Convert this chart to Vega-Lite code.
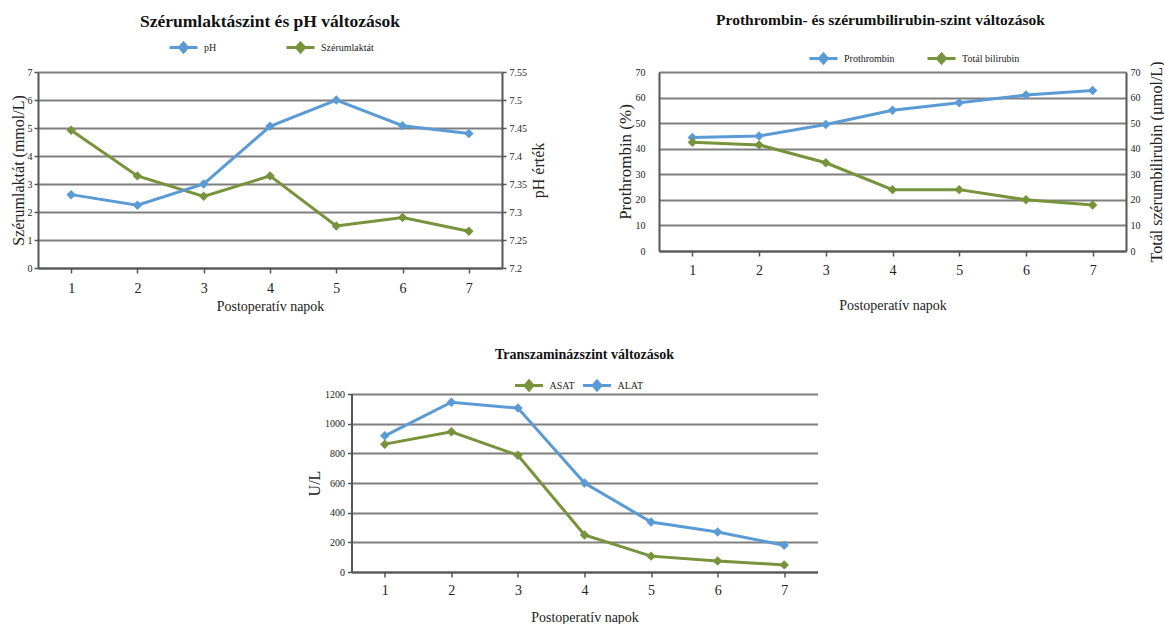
{
  "$schema": "https://vega.github.io/schema/vega-lite/v6.json",
  "padding": {"left": 10, "top": 12, "right": 0, "bottom": 0},
  "background": "white",
  "config": {
    "font": "Liberation Serif",
    "view": {"stroke": null},
    "axis": {"labelFont": "Liberation Serif", "titleFont": "Liberation Serif", "titleFontWeight": "normal", "labelColor": "#222222", "titleColor": "#222222", "domainColor": "#555555", "domainWidth": 2, "tickColor": "#555555", "tickWidth": 1.5, "gridColor": "#7f7f7f", "gridWidth": 2},
    "axisX": {"labelFontSize": 14, "labelAngle": 0, "tickSize": 5, "labelPadding": 8, "titleFontSize": 14, "titlePadding": 4, "grid": false},
    "axisY": {"labelFontSize": 10, "titleFontSize": 16, "tickSize": 4},
    "legend": {"labelFont": "Liberation Serif", "labelFontSize": 10, "labelColor": "#222222", "orient": "none", "direction": "horizontal", "symbolType": "M-1,0H1M0,-0.32L0.28,0L0,0.32L-0.28,0Z", "symbolSize": 784, "symbolStrokeWidth": 3, "labelOffset": 5},
    "title": {"font": "Liberation Serif", "fontWeight": "bold", "color": "#111111", "anchor": "middle"},
    "line": {"strokeWidth": 3}
  },
  "datasets": {
    "lac": [
      {"day": 1, "laktat": 4.92, "pH": 7.331},
      {"day": 2, "laktat": 3.29, "pH": 7.312},
      {"day": 3, "laktat": 2.56, "pH": 7.35},
      {"day": 4, "laktat": 3.29, "pH": 7.453},
      {"day": 5, "laktat": 1.5, "pH": 7.5},
      {"day": 6, "laktat": 1.8, "pH": 7.454},
      {"day": 7, "laktat": 1.31, "pH": 7.44}
    ],
    "pro": [
      {"day": 1, "prothrombin": 44.4, "bilirubin": 42.5},
      {"day": 2, "prothrombin": 45.0, "bilirubin": 41.5},
      {"day": 3, "prothrombin": 49.5, "bilirubin": 34.5},
      {"day": 4, "prothrombin": 55.0, "bilirubin": 24.0},
      {"day": 5, "prothrombin": 58.0, "bilirubin": 24.0},
      {"day": 6, "prothrombin": 61.0, "bilirubin": 20.0},
      {"day": 7, "prothrombin": 62.8, "bilirubin": 18.0}
    ],
    "trans": [
      {"day": 1, "ASAT": 862, "ALAT": 918},
      {"day": 2, "ASAT": 945, "ALAT": 1145},
      {"day": 3, "ASAT": 787, "ALAT": 1105},
      {"day": 4, "ASAT": 250, "ALAT": 600},
      {"day": 5, "ASAT": 107, "ALAT": 337},
      {"day": 6, "ASAT": 74, "ALAT": 270},
      {"day": 7, "ASAT": 48, "ALAT": 180}
    ]
  },
  "resolve": {"scale": {"color": "independent"}, "legend": {"color": "independent"}},
  "spacing": 35,
  "center": true,
  "vconcat": [
    {
      "spacing": 69,
      "resolve": {"scale": {"color": "independent"}, "legend": {"color": "independent"}},
      "hconcat": [
        {
          "width": 464,
          "height": 196,
          "data": {"name": "lac"},
          "title": {"text": "Szérumlaktászint és pH változások", "fontSize": 17.5, "offset": 2},
          "encoding": {
            "x": {"field": "day", "type": "ordinal", "scale": {"type": "point", "padding": 0.5}, "axis": {"title": "Postoperatív napok"}}
          },
          "layer": [
            {
              "mark": {"type": "line", "point": {"shape": "diamond", "size": 90, "filled": true}},
              "encoding": {
                "y": {"field": "laktat", "type": "quantitative", "scale": {"domain": [0, 7], "nice": false}, "axis": {"title": "Szérumlaktát (mmol/L)", "values": [0, 1, 2, 3, 4, 5, 6, 7], "grid": true, "labelPadding": 2, "titlePadding": 1}},
                "color": {"datum": "Szérumlaktát", "type": "nominal", "scale": {"domain": ["pH", "Szérumlaktát"], "range": ["#5B9BD5", "#77933C"]}, "legend": {"title": null, "legendX": 130, "legendY": -40, "columnPadding": 63}}
              }
            },
            {
              "mark": {"type": "line", "point": {"shape": "diamond", "size": 90, "filled": true}},
              "encoding": {
                "y": {"field": "pH", "type": "quantitative", "scale": {"domain": [7.2, 7.55], "zero": false, "nice": false}, "axis": {"orient": "right", "title": "pH érték", "values": [7.2, 7.25, 7.3, 7.35, 7.4, 7.45, 7.5, 7.55], "format": ".2~f", "grid": false, "titleAngle": 270, "titleBaseline": "top", "labelPadding": 3, "titlePadding": 4}},
                "color": {"datum": "pH", "type": "nominal", "scale": {"domain": ["pH", "Szérumlaktát"], "range": ["#5B9BD5", "#77933C"]}, "legend": {"title": null, "legendX": 130, "legendY": -40, "columnPadding": 63}}
              }
            }
          ],
          "resolve": {"scale": {"y": "independent"}}
        },
        {
          "width": 467,
          "height": 179,
          "data": {"name": "pro"},
          "title": {"text": "Prothrombin- és szérumbilirubin-szint változások", "fontSize": 15.5, "offset": 15, "dx": -12},
          "encoding": {
            "x": {"field": "day", "type": "ordinal", "scale": {"type": "point", "padding": 0.5}, "axis": {"title": "Postoperatív napok", "labelPadding": 7, "titlePadding": 21}}
          },
          "layer": [
            {
              "mark": {"type": "line", "point": {"shape": "diamond", "size": 90, "filled": true}},
              "encoding": {
                "y": {"field": "prothrombin", "type": "quantitative", "scale": {"domain": [0, 70], "nice": false}, "axis": {"title": "Prothrombin (%)", "titleFontSize": 17, "values": [0, 10, 20, 30, 40, 50, 60, 70], "grid": true, "ticks": false, "labelPadding": 14, "titlePadding": 1}},
                "color": {"datum": "Prothrombin", "type": "nominal", "scale": {"domain": ["Prothrombin", "Totál bilirubin"], "range": ["#5B9BD5", "#77933C"]}, "legend": {"title": null, "legendX": 149, "legendY": -29, "columnPadding": 26}}
              }
            },
            {
              "mark": {"type": "line", "point": {"shape": "diamond", "size": 90, "filled": true}},
              "encoding": {
                "y": {"field": "bilirubin", "type": "quantitative", "scale": {"domain": [0, 70], "nice": false}, "axis": {"orient": "right", "title": "Totál szérumbilirubin (µmol/L)", "titleFontSize": 16, "values": [0, 10, 20, 30, 40, 50, 60, 70], "grid": false, "ticks": false, "titleAngle": 270, "titleBaseline": "top", "labelPadding": 4, "titlePadding": 8}},
                "color": {"datum": "Totál bilirubin", "type": "nominal", "scale": {"domain": ["Prothrombin", "Totál bilirubin"], "range": ["#5B9BD5", "#77933C"]}, "legend": {"title": null, "legendX": 149, "legendY": -29, "columnPadding": 26}}
              }
            }
          ],
          "resolve": {"scale": {"y": "independent"}}
        }
      ]
    },
    {
      "width": 466,
      "height": 178,
      "data": {"name": "trans"},
      "title": {"text": "Transzaminázszint változások", "fontSize": 14, "offset": 8},
      "encoding": {
        "x": {"field": "day", "type": "ordinal", "scale": {"type": "point", "padding": 0.5}, "axis": {"title": "Postoperatív napok", "labelPadding": 6, "titlePadding": 13}}
      },
      "layer": [
        {
          "mark": {"type": "line", "point": {"shape": "diamond", "size": 90, "filled": true}},
          "encoding": {
            "y": {"field": "ASAT", "type": "quantitative", "scale": {"domain": [0, 1200], "nice": false}, "axis": {"title": "U/L", "values": [0, 200, 400, 600, 800, 1000, 1200], "format": "d", "grid": true, "labelPadding": 3, "titlePadding": 2}},
            "color": {"datum": "ASAT", "type": "nominal", "scale": {"domain": ["ASAT", "ALAT"], "range": ["#77933C", "#5B9BD5"]}, "legend": {"title": null, "legendX": 162, "legendY": -24, "columnPadding": 1}}
          }
        },
        {
          "mark": {"type": "line", "point": {"shape": "diamond", "size": 90, "filled": true}},
          "encoding": {
            "y": {"field": "ALAT", "type": "quantitative", "axis": {"orient": "right", "title": null, "values": [0, 200, 400, 600, 800, 1000, 1200], "format": "d", "labelColor": "transparent", "domain": false, "ticks": false, "grid": false, "labelPadding": 13}},
            "color": {"datum": "ALAT", "type": "nominal", "scale": {"domain": ["ASAT", "ALAT"], "range": ["#77933C", "#5B9BD5"]}, "legend": {"title": null, "legendX": 162, "legendY": -24, "columnPadding": 1}}
          }
        }
      ],
      "resolve": {"axis": {"y": "independent"}}
    }
  ]
}
